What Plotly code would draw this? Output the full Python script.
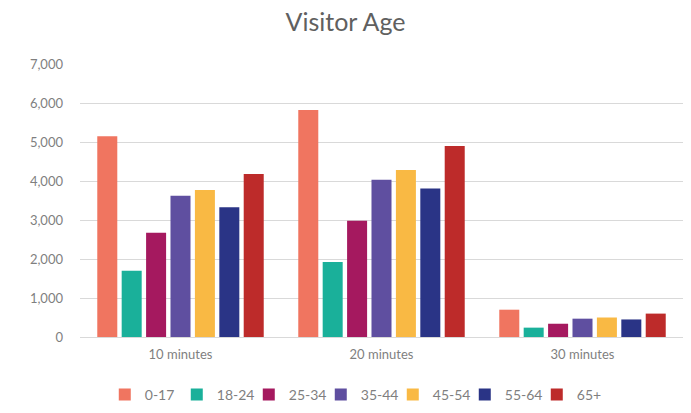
import plotly.graph_objects as go

# Visitor counts by session length and age band
categories = ["10 minutes", "20 minutes", "30 minutes"]
age_groups = ["0-17", "18-24", "25-34", "35-44", "45-54", "55-64", "65+"]
v_0_17 = [5150, 5820, 700]
v_18_24 = [1700, 1920, 240]
v_25_34 = [2670, 2980, 340]
v_35_44 = [3620, 4030, 470]
v_45_54 = [3770, 4280, 500]
v_55_64 = [3330, 3810, 450]
v_65_plus = [4180, 4900, 600]

series = [v_0_17, v_18_24, v_25_34, v_35_44, v_45_54, v_55_64, v_65_plus]
colors = ["#F07560", "#1AB09A", "#A5195F", "#5F4FA0", "#F9B944", "#2A3486", "#BD2B2A"]

fig = go.Figure()
for name, vals, col in zip(age_groups, series, colors):
    fig.add_trace(go.Bar(name=name, x=categories, y=vals, marker_color=col,
                         marker_line_width=0))

font_family = "Lato, Open Sans, sans-serif"
fig.update_layout(
    width=691, height=413,
    margin=dict(l=80, r=8, t=64, b=76, autoexpand=False),
    paper_bgcolor="white", plot_bgcolor="white",
    barmode="group", bargap=0.15, bargroupgap=0.18,
    title=dict(text="Visitor Age", x=0.5, xanchor="center", y=0.945, yanchor="middle",
               font=dict(family=font_family, size=25, color="#606060")),
    font=dict(family=font_family, color="#7f7f7f"),
    legend=dict(orientation="h", x=0.459, xanchor="center",
                yref="container", y=0.044, yanchor="middle",
                font=dict(size=14, color="#7f7f7f"), itemwidth=30,
                entrywidth=27, entrywidthmode="pixels",
                traceorder="normal"),
    xaxis=dict(tickfont=dict(size=13, color="#7f7f7f"), showline=True,
               linecolor="#d9d9d9", linewidth=1, ticks="", ticklabelstandoff=5),
    yaxis=dict(range=[0, 7000], dtick=1000, tickformat=",d",
               tickfont=dict(size=13, color="#7f7f7f"), gridcolor="#d9d9d9",
               gridwidth=1, zeroline=False, ticks="", ticklabelstandoff=16),
)
fig.write_html("out.html")
